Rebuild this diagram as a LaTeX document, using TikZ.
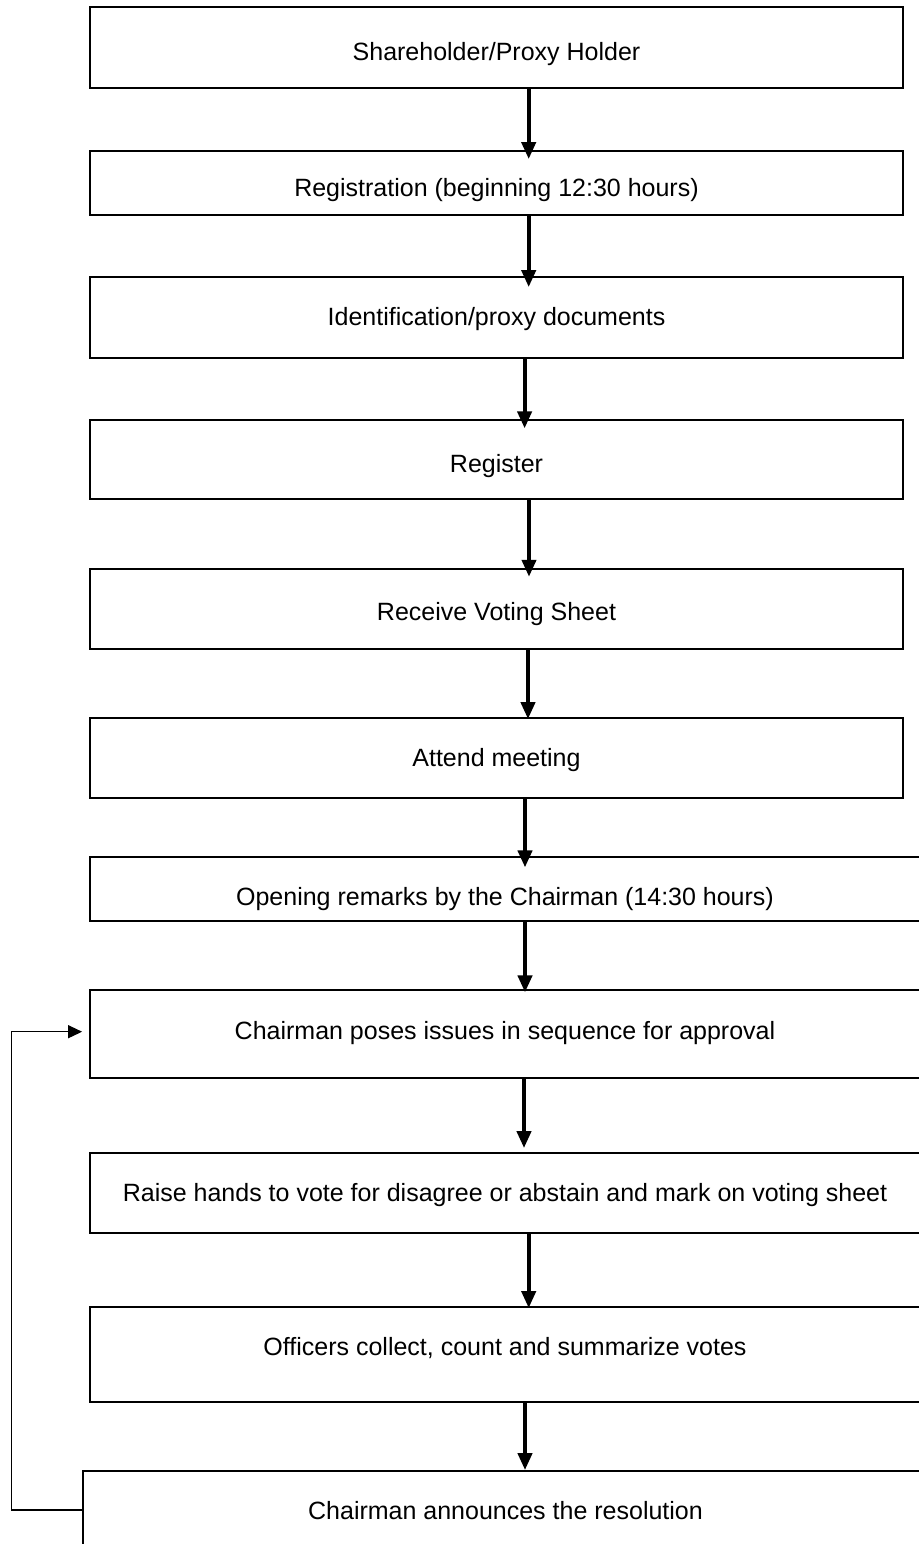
\documentclass[tikz,border=0pt]{standalone}
\usepackage{fontspec}
\setmainfont{Liberation Sans}
\usetikzlibrary{arrows.meta,calc}
\begin{document}
\begin{tikzpicture}[x=1pt,y=-1pt,
  box/.style={draw, line width=1.8pt, rectangle, inner sep=0pt,
    font=\fontsize{25}{30}\selectfont, text height=18pt, text depth=5pt},
  narrowbox/.style={box, minimum width=813pt},
  widebox/.style={box, minimum width=830pt},
  flow/.style={line width=4pt, -{Triangle[length=17pt,width=14pt]}},
  back/.style={line width=1.3pt, -{Triangle[length=14pt,width=13pt]}}]
\useasboundingbox (0,0) rectangle (918,1544);

\node[narrowbox, minimum height=80.4pt, text height=31.4pt] (b1) at (496.5,47.5) {Shareholder/Proxy Holder};
\node[narrowbox, minimum height=64pt, text height=31.6pt] (b2) at (496.5,182.7) {Registration (beginning 12:30 hours)};
\node[narrowbox, minimum height=80.4pt, text height=21.4pt] (b3) at (496.5,317.5) {Identification/proxy documents};
\node[narrowbox, minimum height=79.6pt, text height=30pt] (b4) at (496.5,459.5) {Register};
\node[narrowbox, minimum height=80pt, text height=27.6pt] (b5) at (496.5,608.7) {Receive Voting Sheet};
\node[narrowbox, minimum height=80pt, text height=21.6pt] (b6) at (496.5,757.7) {Attend meeting};
\node[widebox, minimum height=64pt, text height=39pt] (b7) at (505,888.7) {Opening remarks by the Chairman (14:30 hours)};
\node[widebox, minimum height=88pt, text height=17pt] (b8) at (505,1033.7) {Chairman poses issues in sequence for approval};
\node[widebox, minimum height=80pt, text height=21.6pt] (b9) at (505,1192.7) {Raise hands to vote for disagree or abstain and mark on voting sheet};
\node[widebox, minimum height=95pt, text height=8pt] (b10) at (505,1354.2) {Officers collect, count and summarize votes};
\node[box, minimum width=845pt, minimum height=78pt, text height=23pt] (b11) at (505.5,1510) {Chairman announces the resolution};

\draw[flow] ([xshift=32.2pt]b1.south) coordinate (s1) -- ($(s1 |- b2.north)+(0,9.3)$);
\draw[flow] ([xshift=32.2pt]b2.south) coordinate (s2) -- ($(s2 |- b3.north)+(0,10.7)$);
\draw[flow] ([xshift=28.1pt]b3.south) coordinate (s3) -- ($(s3 |- b4.north)+(0,9.6)$);
\draw[flow] ([xshift=32.5pt]b4.south) coordinate (s4) -- ($(s4 |- b5.north)+(0,9)$);
\draw[flow] ([xshift=31.5pt]b5.south) coordinate (s5) -- ($(s5 |- b6.north)+(0,2.3)$);
\draw[flow] ([xshift=28.5pt]b6.south) coordinate (s6) -- ($(s6 |- b7.north)+(0,11.6)$);
\draw[flow] ([xshift=20pt]b7.south) coordinate (s7) -- ($(s7 |- b8.north)+(0,3.6)$);
\draw[flow] ([xshift=19pt]b8.south) coordinate (s8) -- ($(s8 |- b9.north)+(0,-3.7)$);
\draw[flow] ([xshift=23.7pt]b9.south) coordinate (s9) -- ($(s9 |- b10.north)+(0,2.3)$);
\draw[flow] ([xshift=20pt]b10.south) coordinate (s10) -- (s10 |- b11.north);

\coordinate (lp) at (11.7,1510);
\draw[back] (b11.west) -- (b11.west -| lp) |- ($(b8.west)+(-7,-2)$);
\end{tikzpicture}
\end{document}
